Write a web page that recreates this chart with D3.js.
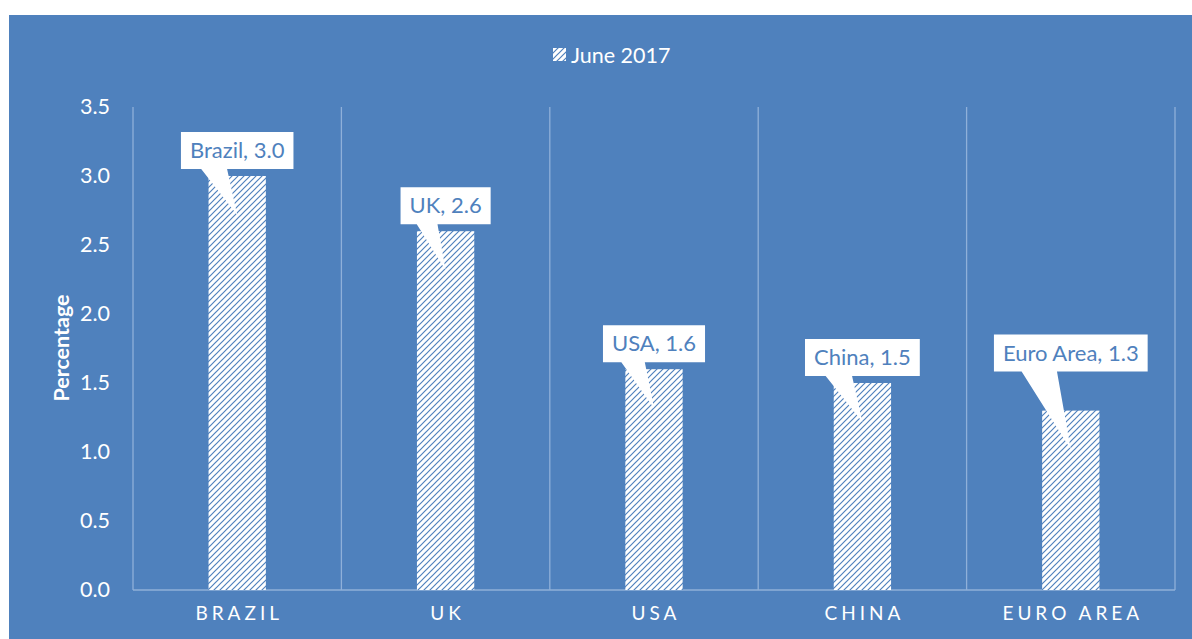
<!DOCTYPE html>
<html>
<head>
<meta charset="utf-8">
<script src="https://cdn.jsdelivr.net/npm/d3@7"></script>
<style>
  html, body { margin: 0; padding: 0; background: #ffffff; }
  svg { display: block; }
  text { font-family: Lato, "Open Sans", sans-serif; }
</style>
</head>
<body>
<svg id="chart" width="1192" height="639"></svg>
<script>
// ---- data ----
const categories = ["Brazil", "UK", "USA", "China", "Euro Area"];
const values = [3.0, 2.6, 1.6, 1.5, 1.3];
const seriesName = "June 2017";
const yTicks = [0, 0.5, 1.0, 1.5, 2.0, 2.5, 3.0, 3.5];
const yTitle = "Percentage";

// ---- layout / style ----
const W = 1192, H = 639;
const BG = "#4f81bd";
const GRID = "#8fb0d9";
const plot = { left: 133, right: 1175, top: 107, bottom: 590 };
const extraLift = [0, 0, 0, 0, 32]; // callout manually raised (Euro Area)

const svg = d3.select("#chart");

// pattern
const defs = svg.append("defs");
const pat = defs.append("pattern")
  .attr("id", "diag")
  .attr("patternUnits", "userSpaceOnUse")
  .attr("width", 6).attr("height", 6);
pat.append("rect").attr("width", 6).attr("height", 6).attr("fill", "#ffffff");
pat.append("path")
  .attr("d", "M0,6 L6,0 M-1.5,1.5 L1.5,-1.5 M4.5,7.5 L7.5,4.5")
  .attr("stroke", BG).attr("stroke-width", 1.2);

// background
svg.append("rect").attr("x", 0).attr("y", 0).attr("width", W).attr("height", H).attr("fill", "#ffffff");
svg.append("rect").attr("x", 9).attr("y", 15).attr("width", W - 9).attr("height", H - 15).attr("fill", BG);

// scales
const x = d3.scaleBand().domain(categories).range([plot.left, plot.right]).padding(0);
const y = d3.scaleLinear().domain([0, 3.5]).range([plot.bottom, plot.top]);
const barW = x.bandwidth() * 0.275;

// vertical category gridlines
const bounds = categories.map(c => x(c)).concat([plot.right]);
svg.append("g").selectAll("line").data(bounds).join("line")
  .attr("x1", d => d).attr("x2", d => d)
  .attr("y1", plot.top).attr("y2", plot.bottom)
  .attr("stroke", GRID).attr("stroke-width", 1.3);

// baseline
svg.append("line")
  .attr("x1", plot.left).attr("x2", plot.right)
  .attr("y1", plot.bottom).attr("y2", plot.bottom)
  .attr("stroke", GRID).attr("stroke-width", 1.3);

// y axis
const yAxis = d3.axisLeft(y).tickValues(yTicks).tickFormat(d3.format(".1f")).tickSize(0).tickPadding(23);
const yg = svg.append("g").attr("transform", `translate(${plot.left},0)`).call(yAxis);
yg.select(".domain").remove();
yg.selectAll("text").attr("fill", "#ffffff").attr("font-size", 21.5).attr("font-family", "Lato, sans-serif");

// x axis
const xAxis = d3.axisBottom(x).tickSize(0).tickPadding(17).tickFormat(d => d.toUpperCase());
const xg = svg.append("g").attr("transform", `translate(0,${plot.bottom})`).call(xAxis);
xg.select(".domain").remove();
xg.selectAll("text")
  .attr("fill", "#ffffff").attr("font-size", 19).attr("font-family", "Lato, sans-serif")
  .attr("letter-spacing", "4px")
  .attr("dx", "2px");

// y title
svg.append("text")
  .attr("transform", `translate(69,348) rotate(-90)`)
  .attr("text-anchor", "middle")
  .attr("fill", "#ffffff").attr("font-size", 21.5).attr("font-weight", "bold")
  .text(yTitle);

// bars
svg.append("g").selectAll("rect").data(categories).join("rect")
  .attr("x", (d) => x(d) + x.bandwidth() / 2 - barW / 2)
  .attr("y", (d, i) => y(values[i]))
  .attr("width", barW)
  .attr("height", (d, i) => y(0) - y(values[i]))
  .attr("fill", "url(#diag)");

// legend
const lg = svg.append("g");
lg.append("rect").attr("x", 553).attr("y", 48).attr("width", 13).attr("height", 13).attr("fill", "url(#diag)");
lg.append("text").attr("x", 571).attr("y", 55).attr("dy", "0.35em")
  .attr("fill", "#ffffff").attr("font-size", 21.5).text(seriesName);

// callouts
const cg = svg.append("g");
categories.forEach((c, i) => {
  const cx = x(c) + x.bandwidth() / 2;
  const tipY = y(values[i]) + 39;
  const boxH = 37;
  const boxBottom = tipY - 46 - extraLift[i];
  const g = cg.append("g");
  const label = `${c}, ${d3.format(".1f")(values[i])}`;
  const t = g.append("text")
    .attr("x", cx).attr("y", boxBottom - boxH / 2).attr("dy", "0.35em")
    .attr("text-anchor", "middle").attr("font-size", 22).attr("fill", BG)
    .text(label);
  const tw = t.node().getComputedTextLength();
  const boxW = tw + 18;
  const bx = cx - boxW / 2;
  const b0 = bx + boxW * 0.18, b1 = bx + boxW * 0.41;
  g.insert("path", "text")
    .attr("d", `M${bx},${boxBottom - boxH} H${bx + boxW} V${boxBottom} H${b1} L${cx},${tipY} L${b0},${boxBottom} H${bx} Z`)
    .attr("fill", "#ffffff");
});
</script>
</body>
</html>
